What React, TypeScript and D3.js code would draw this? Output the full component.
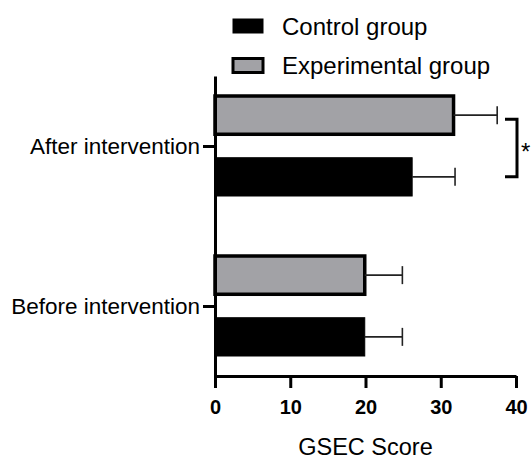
import React, { useEffect, useRef } from 'react';
import * as d3 from 'd3';

// values
const categories = ['After intervention', 'Before intervention'];
const groups = ['Experimental group', 'Control group'];
const legendOrder = ['Control group', 'Experimental group'];
const experimentalMeans = [31.7, 19.9];
const experimentalSd = [5.8, 5.0];
const controlMeans = [26.2, 19.9];
const controlSd = [5.7, 5.0];
const xTicks = [0, 10, 20, 30, 40];

const FONT = "'Liberation Sans', Arial, sans-serif";
const GRAY = '#a2a2a6';

function App() {
  const svgRef = useRef<SVGSVGElement>(null);

  useEffect(() => {
    const svg = d3.select(svgRef.current);
    svg.selectAll('*').remove();

    const x = d3.scaleLinear().domain([0, 40]).range([215, 516]);
    const y = d3.scalePoint().domain(categories).range([76, 376]).padding(0.4375);
    const sub = d3.scaleBand().domain(groups).range([-50, 50]).paddingInner(0.38);

    const data = categories.flatMap((c, i) => [
      { cat: c, group: 'Experimental group', mean: experimentalMeans[i], sd: experimentalSd[i] },
      { cat: c, group: 'Control group', mean: controlMeans[i], sd: controlSd[i] }
    ]);

    // bars
    svg.append('g')
      .selectAll('rect')
      .data(data)
      .join('rect')
      .attr('x', x(0))
      .attr('y', d => y(d.cat)! + sub(d.group)!)
      .attr('width', d => x(d.mean) - x(0))
      .attr('height', sub.bandwidth())
      .attr('fill', d => (d.group === 'Control group' ? '#000' : GRAY))
      .attr('stroke', '#000')
      .attr('stroke-width', d => (d.group === 'Control group' ? 1 : 3.5));

    // error bars
    const err = svg.append('g').attr('stroke', '#222').attr('stroke-width', 1.6);
    data.forEach(d => {
      const cy = y(d.cat)! + sub(d.group)! + sub.bandwidth() / 2;
      err.append('line')
        .attr('x1', x(d.mean)).attr('x2', x(d.mean + d.sd))
        .attr('y1', cy).attr('y2', cy);
      err.append('line')
        .attr('x1', x(d.mean + d.sd)).attr('x2', x(d.mean + d.sd))
        .attr('y1', cy - 9).attr('y2', cy + 9);
    });

    // x axis
    const xAxis = svg.append('g')
      .attr('transform', 'translate(0,376)')
      .call(d3.axisBottom(x).tickValues(xTicks).tickSize(12).tickSizeOuter(0).tickPadding(12));
    xAxis.select('.domain').attr('stroke-width', 3);
    xAxis.selectAll('.tick line').attr('stroke-width', 3);
    xAxis.selectAll('.tick text')
      .attr('font-family', FONT).attr('font-size', 20).attr('font-weight', 'bold').attr('fill', '#000');

    // y axis
    const yAxis = svg.append('g')
      .attr('transform', `translate(${x(0)},0)`)
      .call(d3.axisLeft(y).tickSize(12).tickSizeOuter(0).tickPadding(3));
    yAxis.select('.domain').attr('stroke-width', 3);
    yAxis.selectAll('.tick line').attr('stroke-width', 3);
    yAxis.selectAll('.tick text')
      .attr('font-family', FONT).attr('font-size', 22.5).attr('fill', '#000');

    // axis title
    svg.append('text')
      .attr('x', (x(0) + x(40)) / 2)
      .attr('y', 455)
      .attr('text-anchor', 'middle')
      .attr('font-family', FONT)
      .attr('font-size', 23.5)
      .text('GSEC Score');

    // significance bracket between the two "after" bars
    const topY = y(categories[0])! + sub('Experimental group')! + sub.bandwidth() / 2 + 4;
    const botY = y(categories[0])! + sub('Control group')! + sub.bandwidth() / 2;
    svg.append('path')
      .attr('d', `M505,${topY}H517V${botY}H505`)
      .attr('fill', 'none')
      .attr('stroke', '#000')
      .attr('stroke-width', 3);
    svg.append('text')
      .attr('x', 521)
      .attr('y', (topY + botY) / 2 + 12)
      .attr('font-family', FONT)
      .attr('font-size', 24)
      .text('*');

    // legend
    const legend = svg.append('g');
    legendOrder.forEach((g, i) => {
      const cy = 26 + i * 39.5;
      legend.append('rect')
        .attr('x', 233).attr('y', cy - 7)
        .attr('width', 30).attr('height', 14)
        .attr('fill', g === 'Control group' ? '#000' : GRAY)
        .attr('stroke', '#000')
        .attr('stroke-width', g === 'Control group' ? 1 : 3);
      legend.append('text')
        .attr('x', 282).attr('y', cy + 8.5)
        .attr('font-family', FONT)
        .attr('font-size', 24)
        .text(g);
    });
  }, []);

  return (
    <svg
      ref={svgRef}
      width={531}
      height={460}
      style={{ position: 'absolute', left: 0, top: 0, background: '#fff' }}
    />
  );
}

export default App;
